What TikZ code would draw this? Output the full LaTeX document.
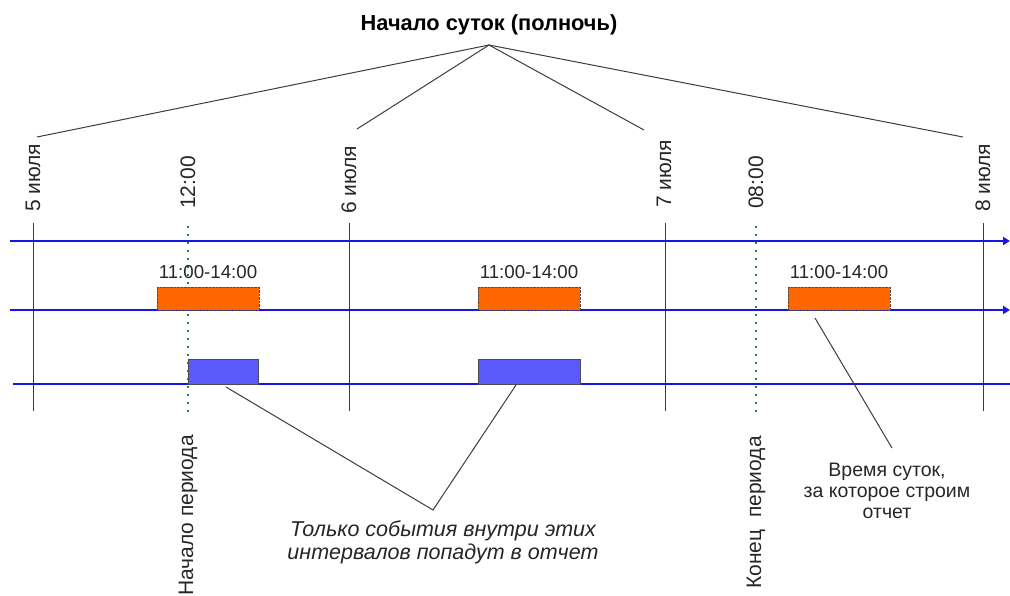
\documentclass[tikz,border=0pt]{standalone}
\usepackage{fontspec}
\setmainfont{Liberation Sans}
\usetikzlibrary{arrows.meta}
\definecolor{lineblue}{RGB}{20,20,235}
\definecolor{boxorange}{RGB}{255,102,0}
\definecolor{boxblue}{RGB}{90,90,250}
\definecolor{dotgreen}{RGB}{30,120,90}
\definecolor{ink}{RGB}{60,60,60}
\tikzset{
  timeline/.style={draw=lineblue, line width=1.8pt},
  timearrow/.style={timeline, -{Triangle[length=7pt,width=8pt]}},
  dayline/.style={draw=ink, line width=0.9pt},
  markline/.style={draw=dotgreen, line width=2pt, dash pattern=on 2pt off 6pt},
  fanline/.style={draw=ink, line width=1pt},
  pointer/.style={draw=ink, line width=1pt},
  vlabel/.style={rotate=90, anchor=west, inner sep=0pt, font=\fontsize{21}{23}\selectfont, text=black!85},
  orangebox/.style={draw=black!70, densely dotted, fill=boxorange, minimum width=102pt, minimum height=23pt, anchor=south west, inner sep=0pt},
  bluebox/.style={draw=black!70, fill=boxblue, minimum height=25pt, anchor=south west, inner sep=0pt},
  rangelabel/.style={font=\fontsize{18.7}{20}\selectfont, text=black!85, inner sep=0pt},
  note/.style={align=center, text=black!85, inner sep=0pt}
}
\begin{document}
\begin{tikzpicture}[x=1pt,y=-1pt]
\useasboundingbox (0,0) rectangle (1010,595);

% title and fan
\node[font=\bfseries\fontsize{21.8}{24}\selectfont, inner sep=0pt] (title) at (489,25) {Начало суток (полночь)};
\coordinate (apex) at (489,45);
\coordinate (f5) at (37,137);
\coordinate (f6) at (357,129);
\coordinate (f7) at (644,130);
\coordinate (f8) at (963,137);
\draw[fanline] (f5) -- (apex) -- (f8);
\draw[fanline] (f6) -- (apex) -- (f7);

% vertical labels
\node[vlabel] (d5) at (33,212) {5 июля};
\node[vlabel] (t12) at (188,209) {12:00};
\node[vlabel] (d6) at (349,214) {6 июля};
\node[vlabel] (d7) at (664,208) {7 июля};
\node[vlabel] (t08) at (756,209) {08:00};
\node[vlabel] (d8) at (983,212) {8 июля};

% day lines
\coordinate (v5a) at (33,223);  \coordinate (v5b) at (33,411);
\coordinate (v6a) at (349,223); \coordinate (v6b) at (349,411);
\coordinate (v7a) at (665,223); \coordinate (v7b) at (665,411);
\coordinate (v8a) at (983,223); \coordinate (v8b) at (983,411);
\draw[dayline] (v5a) -- (v5b);
\draw[dayline] (v6a) -- (v6b);
\draw[dayline] (v7a) -- (v7b);
\draw[dayline] (v8a) -- (v8b);

% period marks
\coordinate (m1a) at (188,226); \coordinate (m1b) at (188,412);
\coordinate (m2a) at (756,226); \coordinate (m2b) at (756,412);
\draw[markline] (m1a) -- (m1b);
\draw[markline] (m2a) -- (m2b);

% timelines
\coordinate (l1a) at (10,241);  \coordinate (l1b) at (1010,241);
\coordinate (l2a) at (10,310);  \coordinate (l2b) at (1010,310);
\coordinate (l3a) at (13,384);  \coordinate (l3b) at (1010,384);
\draw[timearrow] (l1a) -- (l1b);
\draw[timearrow] (l2a) -- (l2b);
\draw[timeline] (l3a) -- (l3b);

% orange boxes
\node[orangebox] (o1) at (157,310) {};
\node[orangebox] (o2) at (478,310) {};
\node[orangebox] (o3) at (788,310) {};
\node[rangelabel] (r1) at (208,272) {11:00-14:00};
\node[rangelabel] (r2) at (529,272) {11:00-14:00};
\node[rangelabel] (r3) at (839,272) {11:00-14:00};

% blue boxes
\node[bluebox, minimum width=70pt] (b1) at (188,384) {};
\node[bluebox, minimum width=102pt] (b2) at (478,384) {};

% bottom labels
\node[vlabel] (np) at (188,596) {Начало периода};
\node[vlabel] (kp) at (756,589) {Конец\ \ периода};

% notes
\coordinate (vx) at (433,510);
\draw[pointer] ([xshift=38pt,yshift=-3pt]b1.south west) -- (vx) -- ([xshift=38pt,yshift=-1pt]b2.south west);
\node[note, font=\itshape\fontsize{21.5}{23}\selectfont] (n1) at (443,542) {Только события внутри этих\\интервалов попадут в отчет};

\coordinate (p3) at (892,448);
\draw[pointer] ([xshift=27pt,yshift=-8pt]o3.south west) -- (p3);
\node[note, font=\fontsize{19.5}{21}\selectfont] (n2) at (887,491) {Время суток,\\за которое строим\\отчет};
\end{tikzpicture}
\end{document}
